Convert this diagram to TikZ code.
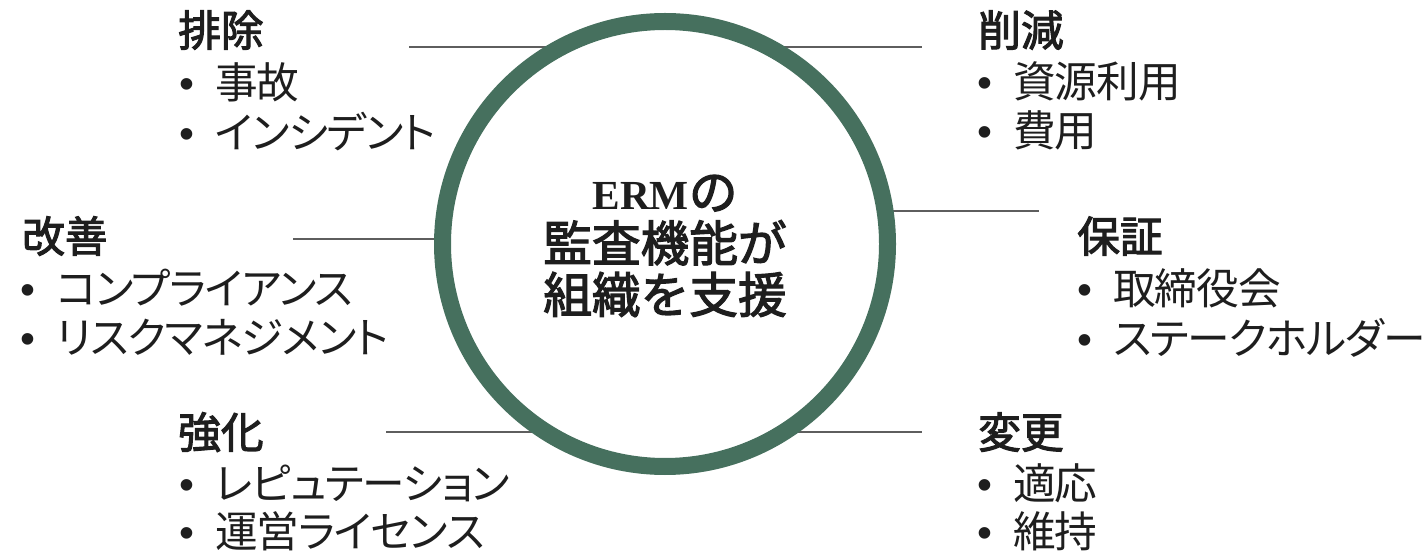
\documentclass[tikz,border=0pt]{standalone}
\usepackage{fontspec}
\setmainfont{Liberation Serif}
\newfontfamily\jpfont[RawFeature=+palt, LetterSpace=-2.5]{Noto Sans CJK JP}
\newfontfamily\jpmed[FakeBold=2.5]{Noto Sans CJK JP}
\newfontfamily\dotfont{Liberation Sans}
\usetikzlibrary{positioning,backgrounds}
\definecolor{ringgreen}{HTML}{46705E}
\definecolor{linegray}{HTML}{5E5E5E}
\definecolor{inkblack}{HTML}{1E1E1E}

% bullet followed by its item text
\newcommand{\bitem}[1]{{\dotfont\char"2022}\hspace{15.4pt}#1}

\tikzset{
  heading/.style={anchor=west, inner sep=0pt, text=inkblack,
    font=\jpmed\fontsize{32pt}{38pt}\selectfont,
    text height=26.5pt, text depth=2.2pt},
  entry/.style={anchor=west, inner sep=0pt, text=inkblack,
    font=\jpfont\fontsize{32pt}{38pt}\selectfont,
    text height=26.5pt, text depth=2.2pt},
  link/.style={draw=linegray, line width=1.5pt},
}

\begin{document}
\begin{tikzpicture}[x=0.75pt, y=-0.75pt]
  \useasboundingbox (0,0) rectangle (1426,555);

  % ring and the central message
  \node[circle, draw=ringgreen, line width=12.75pt, outer sep=0pt,
        minimum size=333.75pt, inner sep=0pt] (hub) at (665,244) {};
  \node[align=center, inner sep=0pt, text=inkblack,
        font=\jpmed\fontsize{36.5pt}{38.6pt}\selectfont]
    (msg) at (665,246)
    {{\rmfamily\bfseries\fontsize{31pt}{38.6pt}\selectfont ERM}の\\監査機能が\\組織を支援};

  % leader lines, behind the ring
  \coordinate (tl) at (409,47);
  \coordinate (tr) at (922,47);
  \coordinate (ml) at (293,239);
  \coordinate (mr) at (1039,211);
  \coordinate (bl) at (386,432);
  \coordinate (br) at (922,432);
  \begin{scope}[on background layer]
    \draw[link] (tl) -- (tl -| hub.117);
    \draw[link] (hub.63 |- tr) -- (tr);
    \draw[link] (ml) -- (ml -| hub.178.7);
    \draw[link] (hub.8.5 |- mr) -- (mr);
    \draw[link] (bl) -- (bl -| hub.237.7);
    \draw[link] (hub.302.3 |- br) -- (br);
  \end{scope}

  % upper left
  \node[heading] (elim) at (178,30) {排除};
  \node[entry] (elim1) at (179.5,82) {\bitem{事故}};
  \node[entry] (elim2) at (179.5,132) {\bitem{インシデント}};

  % upper right
  \node[heading] (cut) at (978,30) {削減};
  \node[entry] (cut1) at (977.5,81) {\bitem{資源利用}};
  \node[entry] (cut2) at (977.5,130) {\bitem{費用}};

  % middle left
  \node[heading] (impr) at (22,236) {改善};
  \node[entry] (impr1) at (20.5,288) {\bitem{コンプライアンス}};
  \node[entry] (impr2) at (20.5,337) {\bitem{リスクマネジメント}};

  % middle right
  \node[heading] (assur) at (1077,236) {保証};
  \node[entry] (assur1) at (1077.5,288) {\bitem{取締役会}};
  \node[entry] (assur2) at (1077.5,338) {\bitem{ステークホルダー}};

  % lower left
  \node[heading] (str) at (178,432) {強化};
  \node[entry] (str1) at (179.5,483) {\bitem{レピュテーション}};
  \node[entry] (str2) at (179.5,531) {\bitem{運営ライセンス}};

  % lower right
  \node[heading] (chg) at (978,432) {変更};
  \node[entry] (chg1) at (977.5,483) {\bitem{適応}};
  \node[entry] (chg2) at (977.5,531) {\bitem{維持}};
\end{tikzpicture}
\end{document}
